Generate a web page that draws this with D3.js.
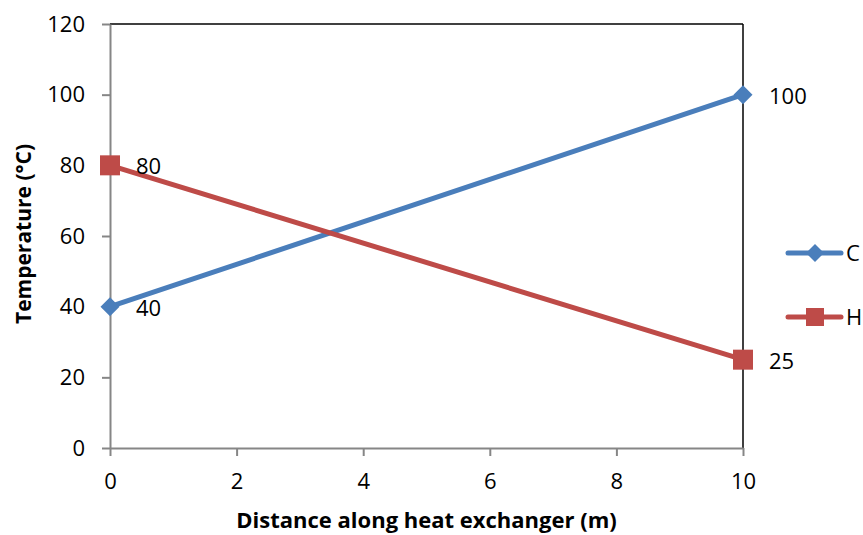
<!DOCTYPE html>
<html><head><meta charset="utf-8">
<script src="https://cdn.jsdelivr.net/npm/d3@7"></script>
<style>body{margin:0;background:#fff}svg{display:block}text{font-family:"Open Sans","Liberation Sans",sans-serif}</style>
</head><body>
<script>
const xVals = [0, 10];
const seriesNames = ["C", "H"];
const cValues = [40, 100];
const hValues = [80, 25];
const colors = ["#4a7ebb", "#be4b48"];
const xTicks = [0, 2, 4, 6, 8, 10];
const yTicks = [0, 20, 40, 60, 80, 100, 120];

const W = 863, H = 535;
const svg = d3.select("body").append("svg").attr("width", W).attr("height", H);
const x = d3.scaleLinear().domain([0, 10]).range([110, 743]);
const y = d3.scaleLinear().domain([0, 120]).range([448, 24]);

// plot border (top/right black)
svg.append("line").attr("x1", x(0)).attr("x2", x(10)).attr("y1", y(120)).attr("y2", y(120)).attr("stroke", "#000").attr("stroke-width", 1.5);
svg.append("line").attr("x1", x(10)).attr("x2", x(10)).attr("y1", y(120)).attr("y2", y(0)).attr("stroke", "#000").attr("stroke-width", 1.5);

const yAx = svg.append("g").attr("transform", `translate(${x(0)},0)`)
  .call(d3.axisLeft(y).tickValues(yTicks).tickSize(8).tickPadding(17).tickSizeOuter(0));
const xAx = svg.append("g").attr("transform", `translate(0,${y(0)})`)
  .call(d3.axisBottom(x).tickValues(xTicks).tickSize(8).tickPadding(17).tickSizeOuter(0));
[yAx, xAx].forEach(g => {
  g.selectAll("path,line").attr("stroke", "#868686").attr("stroke-width", 2);
  g.selectAll("text").attr("font-size", 22).attr("fill", "#000");
});

svg.append("text").attr("x", x(5)).attr("y", 528).attr("text-anchor", "middle")
  .attr("font-size", 22).attr("font-weight", "bold").text("Distance along heat exchanger (m)");
svg.append("text").attr("transform", `translate(31,234) rotate(-90)`).attr("text-anchor", "middle")
  .attr("font-size", 21).attr("font-weight", "bold").text("Temperature (°C)");

const series = [cValues, hValues];
const line = d3.line().x((d, i) => x(xVals[i])).y(d => y(d));
series.forEach((vals, si) => {
  svg.append("path").datum(vals).attr("d", line).attr("fill", "none")
    .attr("stroke", colors[si]).attr("stroke-width", 5).attr("stroke-linecap", "round");
});
function marker(g, si, cx, cy, s) {
  if (si === 0) {
    const r = s * 0.5;
    g.append("path").attr("d", `M${cx},${cy-r}L${cx+r},${cy}L${cx},${cy+r}L${cx-r},${cy}Z`).attr("fill", colors[0]);
  } else {
    g.append("rect").attr("x", cx-s/2).attr("y", cy-s/2).attr("width", s).attr("height", s).attr("fill", colors[1]);
  }
}
series.forEach((vals, si) => {
  vals.forEach((v, i) => {
    marker(svg, si, x(xVals[i]), y(v), si === 0 ? 19 : 20);
    svg.append("text").attr("x", x(xVals[i]) + 26).attr("y", y(v) + 9)
      .attr("font-size", 22).text(v);
  });
});

// legend
const legY = [253, 317];
seriesNames.forEach((n, si) => {
  svg.append("line").attr("x1", 788).attr("x2", 841).attr("y1", legY[si]).attr("y2", legY[si])
    .attr("stroke", colors[si]).attr("stroke-width", 5).attr("stroke-linecap", "round");
  marker(svg, si, 815, legY[si], si === 0 ? 18 : 18);
  svg.append("text").attr("x", 846).attr("y", legY[si] + 8).attr("font-size", 22).text(n);
});
</script>
</body></html>
